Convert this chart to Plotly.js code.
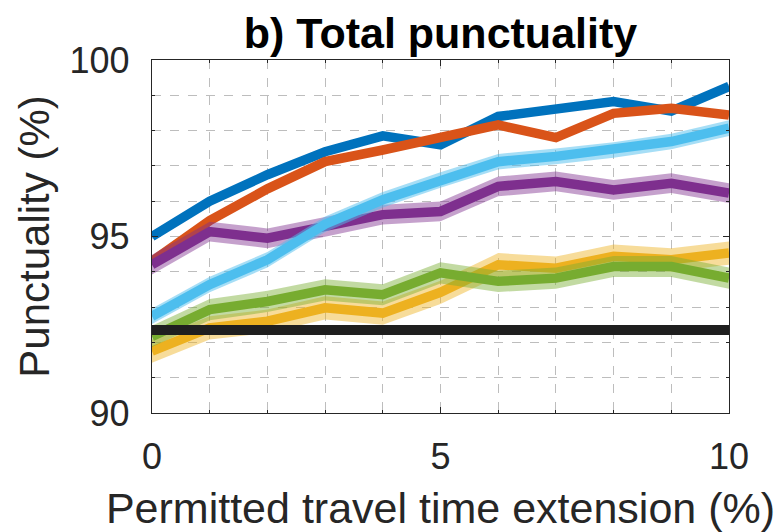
<!DOCTYPE html>
<html>
<head>
<meta charset="utf-8">
<script src="https://cdn.plot.ly/plotly-3.0.1.min.js"></script>
<style>html,body{margin:0;padding:0;background:#fff;}#chart{width:776px;height:532px;}</style>
</head>
<body>
<div id="chart"></div>
<script>
const extension = [0, 1, 2, 3, 4, 5, 6, 7, 8, 9, 10];

const seriesBlue      = [95.0, 96.0, 96.75, 97.4, 97.85, 97.6, 98.4, 98.59, 98.82, 98.55, 99.25];
const seriesOrange    = [94.3, 95.45, 96.35, 97.12, 97.45, 97.78, 98.16, 97.8, 98.49, 98.63, 98.44];
const seriesYellow    = [91.75, 92.41, 92.6, 92.98, 92.83, 93.42, 94.2, 94.1, 94.44, 94.34, 94.53];
const seriesPurple    = [94.2, 95.14, 94.95, 95.27, 95.62, 95.71, 96.42, 96.56, 96.32, 96.51, 96.23];
const seriesGreen     = [92.17, 92.93, 93.16, 93.49, 93.35, 93.97, 93.73, 93.82, 94.15, 94.15, 93.82];
const seriesLightBlue = [92.74, 93.64, 94.34, 95.35, 96.04, 96.6, 97.12, 97.27, 97.45, 97.69, 98.07];
const seriesBaseline  = [92.35, 92.35, 92.35, 92.35, 92.35, 92.35, 92.35, 92.35, 92.35, 92.35, 92.35];

const bandHalfWidth = [0.07, 0.07, 0.33, 0.28, 0.3, 0.22];

const xTickVals = [0, 5, 10];
const yTickVals = [90, 95, 100];

const seriesList = [seriesBlue, seriesOrange, seriesYellow, seriesPurple, seriesGreen, seriesLightBlue];
const lineColors = ['#0072BD', '#D95319', '#EDB120', '#7E2F8E', '#77AC30', '#4DBEEE'];
const bandColors = ['rgba(0,114,189,0.35)', 'rgba(217,83,25,0.35)', 'rgba(237,177,32,0.45)',
                    'rgba(126,47,142,0.45)', 'rgba(119,172,48,0.45)', 'rgba(77,190,238,0.5)'];

const traces = [];
seriesList.forEach((vals, i) => {
  const upper = vals.map(v => v + bandHalfWidth[i]);
  const lower = vals.map(v => v - bandHalfWidth[i]);
  traces.push({
    x: extension.concat(extension.slice().reverse()),
    y: upper.concat(lower.slice().reverse()),
    type: 'scatter', mode: 'lines', fill: 'toself',
    fillcolor: bandColors[i], line: {width: 0}, hoverinfo: 'skip', showlegend: false
  });
  traces.push({
    x: extension, y: vals, type: 'scatter', mode: 'lines',
    line: {color: lineColors[i], width: 9.5}, showlegend: false
  });
});
traces.push({
  x: extension, y: seriesBaseline, type: 'scatter', mode: 'lines',
  line: {color: '#1f1f1f', width: 10}, showlegend: false
});

const fontFam = 'Liberation Sans, Arial, sans-serif';
const layout = {
  width: 776, height: 532,
  margin: {l: 151.5, r: 47, t: 60, b: 118.5},
  paper_bgcolor: '#fff', plot_bgcolor: '#fff',
  showlegend: false,
  title: {
    text: '<b>b) Total punctuality</b>',
    font: {family: fontFam, size: 43, color: '#000'},
    x: 0.5, xref: 'paper', xanchor: 'center',
    y: 1, yref: 'paper', yanchor: 'bottom', pad: {b: 12}
  },
  xaxis: {
    range: [0, 10], tickvals: xTickVals, ticktext: xTickVals.map(String),
    ticks: 'inside', ticklen: 6, tickcolor: '#262626', tickwidth: 1,
    showgrid: true, gridcolor: '#bdbdbd', griddash: 'dash', gridwidth: 1,
    minor: {dtick: 1, showgrid: true, gridcolor: '#bdbdbd', griddash: 'dash', ticks: 'inside', ticklen: 3, tickcolor: '#262626'},
    showline: true, linecolor: '#262626', linewidth: 1.2, mirror: 'ticks',
    zeroline: false,
    tickfont: {family: fontFam, size: 36, color: '#262626'},
    ticklabelstandoff: 12,
    title: {text: 'Permitted travel time extension (%)', font: {family: fontFam, size: 43, color: '#262626'}, standoff: 24},
    automargin: false
  },
  yaxis: {
    range: [90, 100], tickvals: yTickVals, ticktext: yTickVals.map(String),
    ticks: 'inside', ticklen: 6, tickcolor: '#262626', tickwidth: 1,
    showgrid: true, gridcolor: '#bdbdbd', griddash: 'dash', gridwidth: 1,
    minor: {dtick: 1, showgrid: true, gridcolor: '#bdbdbd', griddash: 'dash', ticks: 'inside', ticklen: 3, tickcolor: '#262626'},
    showline: true, linecolor: '#262626', linewidth: 1.2, mirror: 'ticks',
    zeroline: false,
    tickfont: {family: fontFam, size: 36, color: '#262626'},
    ticklabelstandoff: 14,
    title: {text: 'Punctuality (%)', font: {family: fontFam, size: 42, color: '#262626'}, standoff: 6},
    automargin: false
  }
};

Plotly.newPlot('chart', traces, layout, {staticPlot: true, displayModeBar: false});
</script>
</body>
</html>
